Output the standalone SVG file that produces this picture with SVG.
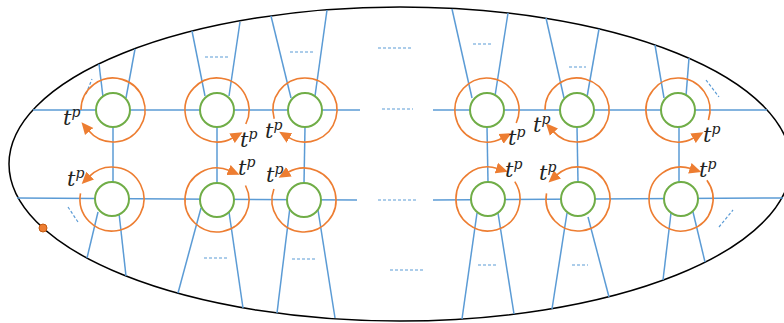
<svg xmlns="http://www.w3.org/2000/svg" width="784" height="323" viewBox="0 0 784 323">
<defs>
<marker id="ah" markerUnits="userSpaceOnUse" markerWidth="12" markerHeight="12" refX="1" refY="5" orient="auto" viewBox="0 0 11 10">
<path d="M0,0 L11,5 L0,10 Z" fill="#ED7D31"/>
</marker>
<style>
.bl{stroke:#5B9BD5;stroke-width:1.5;fill:none}
.ds{stroke:#5B9BD5;stroke-width:1.2;stroke-dasharray:3 2;fill:none}
.gc{fill:#fff;stroke:#70AD47;stroke-width:2}
.oa{fill:none;stroke:#ED7D31;stroke-width:1.6;marker-end:url(#ah)}
.lb{font-family:"DejaVu Serif",serif;font-style:italic;font-size:21px;fill:#222}
.sp{font-size:14px}
</style>
</defs>
<ellipse cx="400" cy="164" rx="391" ry="157" fill="none" stroke="#000" stroke-width="1.5"/>
<g id="connectors">
<line class="bl" x1="33" y1="110" x2="360" y2="110"/>
<line class="bl" x1="433" y1="110" x2="767" y2="110"/>
<line class="bl" x1="17" y1="198" x2="357" y2="200"/>
<line class="bl" x1="433" y1="200" x2="783" y2="198"/>
<line class="ds" x1="382" y1="109" x2="413" y2="109"/>
<line class="ds" x1="378" y1="200" x2="417" y2="200"/>
<line class="ds" x1="378" y1="48" x2="412" y2="48"/>
<line class="ds" x1="390" y1="270" x2="423" y2="270"/>
<line class="bl" x1="113" y1="127" x2="113" y2="182"/>
<line class="bl" x1="217" y1="127" x2="217" y2="183"/>
<line class="bl" x1="305" y1="127" x2="304" y2="183"/>
<line class="bl" x1="487" y1="127" x2="488" y2="182"/>
<line class="bl" x1="577" y1="127" x2="578" y2="182"/>
<line class="bl" x1="679" y1="127" x2="679" y2="182"/>
<line class="bl" x1="103" y1="97" x2="99" y2="64"/>
<line class="bl" x1="126" y1="98" x2="135" y2="49"/>
<line class="ds" x1="86" y1="94" x2="92" y2="79"/>
<line class="bl" x1="205" y1="96" x2="192" y2="31"/>
<line class="bl" x1="229" y1="96" x2="240" y2="22"/>
<line class="ds" x1="205" y1="57" x2="229" y2="57"/>
<line class="bl" x1="291" y1="98" x2="271" y2="16"/>
<line class="bl" x1="315" y1="96" x2="327" y2="10"/>
<line class="ds" x1="290" y1="52" x2="313" y2="52"/>
<line class="bl" x1="472" y1="98" x2="452" y2="9"/>
<line class="bl" x1="495" y1="96" x2="508" y2="13"/>
<line class="ds" x1="473" y1="44" x2="491" y2="44"/>
<line class="bl" x1="564" y1="98" x2="546" y2="18"/>
<line class="bl" x1="587" y1="97" x2="599" y2="29"/>
<line class="ds" x1="569" y1="67" x2="586" y2="67"/>
<line class="bl" x1="664" y1="98" x2="655" y2="45"/>
<line class="bl" x1="686" y1="96" x2="689" y2="58"/>
<line class="ds" x1="706" y1="80" x2="719" y2="97"/>
<line class="bl" x1="98" y1="212" x2="87" y2="258"/>
<line class="bl" x1="119" y1="213" x2="126" y2="276"/>
<line class="ds" x1="68" y1="207" x2="78" y2="222"/>
<line class="bl" x1="201" y1="208" x2="178" y2="293"/>
<line class="bl" x1="229" y1="212" x2="243" y2="308"/>
<line class="ds" x1="204" y1="258" x2="228" y2="258"/>
<line class="bl" x1="290" y1="207" x2="277" y2="313"/>
<line class="bl" x1="318" y1="210" x2="335" y2="318"/>
<line class="ds" x1="292" y1="259" x2="316" y2="259"/>
<line class="bl" x1="477" y1="213" x2="462" y2="319"/>
<line class="bl" x1="498" y1="213" x2="514" y2="314"/>
<line class="ds" x1="478" y1="265" x2="497" y2="265"/>
<line class="bl" x1="567" y1="213" x2="552" y2="309"/>
<line class="bl" x1="588" y1="217" x2="609" y2="297"/>
<line class="ds" x1="572" y1="265" x2="588" y2="265"/>
<line class="bl" x1="671" y1="213" x2="663" y2="280"/>
<line class="bl" x1="693" y1="212" x2="705" y2="262"/>
<line class="ds" x1="719" y1="227" x2="733" y2="210"/>
</g>
<g id="n11">
<circle class="gc" cx="113" cy="110" r="17"/>
<path class="oa" d="M81,110 A32,32 0 1 1 88.5,130.6"/>
<text class="lb" x="63" y="125">t<tspan class="sp" dy="-8">p</tspan></text>
</g>
<g id="n12">
<circle class="gc" cx="217" cy="110" r="17"/>
<path class="oa" d="M245.8,124 A32,32 0 1 0 233,137.7"/>
<text class="lb" x="240" y="147">t<tspan class="sp" dy="-8">p</tspan></text>
</g>
<g id="n13">
<circle class="gc" cx="305" cy="110" r="17"/>
<path class="oa" d="M274.2,118.8 A32,32 0 1 1 288.5,137.4"/>
<text class="lb" x="265" y="138">t<tspan class="sp" dy="-8">p</tspan></text>
</g>
<g id="n14">
<circle class="gc" cx="487" cy="110" r="17"/>
<path class="oa" d="M516.2,123 A32,32 0 1 0 502,138.3"/>
<text class="lb" x="508" y="145">t<tspan class="sp" dy="-8">p</tspan></text>
</g>
<g id="n15">
<circle class="gc" cx="577" cy="110" r="17"/>
<path class="oa" d="M545,110 A32,32 0 1 1 553.2,131.4"/>
<text class="lb" x="533" y="132">t<tspan class="sp" dy="-8">p</tspan></text>
</g>
<g id="n16">
<circle class="gc" cx="678" cy="110" r="17"/>
<path class="oa" d="M708.4,119.9 A32,32 0 1 0 694,137.7"/>
<text class="lb" x="703" y="142">t<tspan class="sp" dy="-8">p</tspan></text>
</g>
<g id="n21">
<circle class="gc" cx="112" cy="199" r="17"/>
<path class="oa" d="M80.5,193.4 A32,32 0 1 0 89.4,176.4"/>
<text class="lb" x="67" y="186">t<tspan class="sp" dy="-8">p</tspan></text>
</g>
<g id="n22">
<circle class="gc" cx="217" cy="200" r="17"/>
<path class="oa" d="M245.5,185.5 A32,32 0 1 1 229.5,170.5"/>
<text class="lb" x="238" y="175">t<tspan class="sp" dy="-8">p</tspan></text>
</g>
<g id="n23">
<circle class="gc" cx="304" cy="200" r="17"/>
<path class="oa" d="M273.9,189.1 A32,32 0 1 0 288,172.3"/>
<text class="lb" x="266" y="182">t<tspan class="sp" dy="-8">p</tspan></text>
</g>
<g id="n24">
<circle class="gc" cx="488" cy="199" r="17"/>
<path class="oa" d="M514.8,181.6 A32,32 0 1 1 497.4,168.4"/>
<text class="lb" x="505" y="177">t<tspan class="sp" dy="-8">p</tspan></text>
</g>
<g id="n25">
<circle class="gc" cx="578" cy="199" r="17"/>
<path class="oa" d="M546.5,193.4 A32,32 0 1 0 556.6,175.2"/>
<text class="lb" x="539" y="180">t<tspan class="sp" dy="-8">p</tspan></text>
</g>
<g id="n26">
<circle class="gc" cx="681" cy="199" r="17"/>
<path class="oa" d="M706.9,180.2 A32,32 0 1 1 690.9,168.6"/>
<text class="lb" x="699" y="177">t<tspan class="sp" dy="-8">p</tspan></text>
</g>
<g id="dot">
<circle cx="43" cy="228" r="4" fill="#ED7D31" stroke="#C55A11" stroke-width="1"/>
</g>
</svg>
